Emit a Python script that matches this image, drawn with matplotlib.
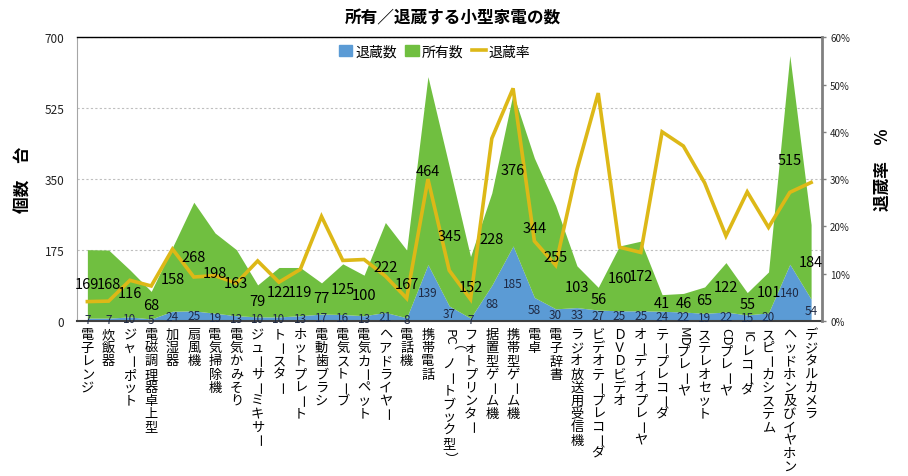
import matplotlib
matplotlib.use('Agg')
import matplotlib.pyplot as plt
import numpy as np
from matplotlib import transforms, font_manager
from matplotlib.patches import Patch
from matplotlib.lines import Line2D
from matplotlib.ticker import FuncFormatter

plt.rcParams['font.family'] = ['Noto Sans CJK JP', 'DejaVu Sans']

categories = ["電子レンジ", "炊飯器", "ジャーポット", "電磁調理器卓上型", "加湿器", "扇風機",
              "電気掃除機", "電気かみそり", "ジューサーミキサー", "トースター", "ホットプレート",
              "電動歯ブラシ", "電気ストーブ", "電気カーペット", "ヘアドライヤー", "電話機",
              "携帯電話", "PC（ノートブック型）", "フォトプリンター", "据置型ゲーム機",
              "携帯型ゲーム機", "電卓", "電子辞書", "ラジオ放送用受信機", "ビデオテープレコーダ",
              "ＤＶＤビデオ", "オーディオプレーヤ", "テープレコーダ", "MDプレーヤ", "ステレオセット",
              "CDプレーヤ", "ICレコーダ", "スピーカシステム", "ヘッドホン及びイヤホン", "デジタルカメラ"]
owned = [169, 168, 116, 68, 158, 268, 198, 163, 79, 122, 119, 77, 125, 100, 222, 167,
         464, 345, 152, 228, 376, 344, 255, 103, 56, 160, 172, 41, 46, 65, 122, 55, 101, 515, 184]
hidden = [7, 7, 10, 5, 24, 25, 19, 13, 10, 10, 13, 17, 16, 13, 21, 8,
          139, 37, 7, 88, 185, 58, 30, 33, 27, 25, 25, 24, 22, 19, 22, 15, 20, 140, 54]
rate = [4.1, 4.2, 8.6, 7.4, 15.2, 9.3, 9.6, 8.0, 12.7, 8.2, 10.9, 22.1, 12.8, 13.0, 9.5, 4.8,
        30.0, 10.7, 4.6, 38.6, 49.2, 16.9, 11.8, 32.0, 48.2, 15.6, 14.5, 40.0, 37.0, 29.2,
        18.0, 27.3, 19.8, 27.2, 29.3]
left_ticks = [0, 175, 350, 525, 700]
right_ticks = [0, 10, 20, 30, 40, 50, 60]

BLUE = '#5B9BD5'
GREEN = '#70BF40'
YELLOW = '#DDB817'

available = {f.name for f in font_manager.fontManager.ttflist}
if 'Liberation Sans Narrow' in available:
    NUMFONT = ['Liberation Sans Narrow', 'DejaVu Sans']
    big, small, tick_l, tick_r = 13, 10.5, 9.5, 8
else:
    NUMFONT = ['Noto Sans CJK JP', 'DejaVu Sans']
    big, small, tick_l, tick_r = 10.5, 8.5, 8.5, 7

fig = plt.figure(figsize=(9.08, 4.77), dpi=100)
ax = fig.add_axes([0.0845, 0.325, 0.8205, 0.5947])
x = np.arange(len(categories))
h = np.array(hidden, dtype=float)
o = np.array(owned, dtype=float)
ax.fill_between(x, 0, h, color=BLUE, lw=0, zorder=2)
ax.fill_between(x, h, h + o, color=GREEN, lw=0, zorder=2)
ax.set_xlim(-0.5, len(categories) - 0.5)
ax.set_ylim(0, 700)
ax.set_yticks(left_ticks)
ax.yaxis.grid(True, ls=(0, (2, 2)), color='#BFBFBF', lw=0.8)
ax.set_axisbelow(True)
ax.set_xticks([])
ax.tick_params(axis='y', length=0, pad=9, labelsize=tick_l, colors='#222222')
for t in ax.get_yticklabels():
    t.set_family(NUMFONT)
ax.spines['top'].set_color('black')
ax.spines['top'].set_linewidth(1.0)
ax.spines['left'].set_color('#A6A6A6')
ax.spines['bottom'].set_color('#404040')
ax.spines['bottom'].set_linewidth(1.5)
ax.spines['right'].set_visible(False)

ax2 = ax.twinx()
ax2.plot(x, rate, color=YELLOW, lw=2.6, zorder=3, solid_joinstyle='miter')
ax2.set_ylim(0, 60)
ax2.set_yticks(right_ticks)
ax2.yaxis.set_major_formatter(FuncFormatter(lambda v, p: f"{int(v)}%"))
ax2.tick_params(axis='y', length=3, width=1, color='#808080', pad=3, labelsize=tick_r, colors='#222222')
for t in ax2.get_yticklabels():
    t.set_family(NUMFONT)
for s in ['top', 'left', 'bottom']:
    ax2.spines[s].set_visible(False)
ax2.spines['right'].set_color('#808080')
ax2.spines['right'].set_linewidth(2)

# data labels
for i in range(len(categories)):
    ax2.text(x[i], h[i] + o[i] / 2, str(owned[i]), transform=ax.transData,
             ha='center', va='center', fontsize=big, color='black', zorder=5,
             family=NUMFONT)
    ax2.text(x[i], h[i] / 2, str(hidden[i]), transform=ax.transData,
             ha='center', va='center', fontsize=small, color='#1F2A44', zorder=5,
             family=NUMFONT)

# vertical category labels
fs = 9.5
step = 9.5
start = 5.0
base = transforms.blended_transform_factory(ax.transData, ax.transAxes)


def tokens(s):
    out = []
    i = 0
    while i < len(s):
        c = s[i]
        if c.isascii() and c.isalnum():
            j = i
            while j < len(s) and s[j].isascii() and s[j].isalnum():
                j += 1
            out.append((s[i:j], True, 0.62 * (j - i)))
            i = j
        else:
            rot = c in 'ー（）'
            out.append((c, rot, 1.0))
            i += 1
    return out


for i, lab in enumerate(categories):
    off = start
    for txt, rot, w in tokens(lab):
        cy = off + w * step / 2
        tr = transforms.offset_copy(base, fig=fig, x=0, y=-cy, units='points')
        ax.text(x[i], 0, txt, transform=tr, ha='center', va='center',
                fontsize=fs, rotation=-90 if rot else 0, clip_on=False)
        off += w * step

fig.text(0.499, 0.962, "所有／退蔵する小型家電の数", ha='center', va='center',
         fontsize=12, fontweight='bold')
fig.text(0.026, 0.623, "個数　台", ha='center', va='center', rotation=90,
         fontsize=12, fontweight='bold')
fig.text(0.972, 0.644, "退蔵率　%", ha='center', va='center', rotation=90,
         fontsize=12, fontweight='bold')

handles = [Patch(color=BLUE, label='退蔵数'), Patch(color=GREEN, label='所有数'),
           Line2D([0], [0], color=YELLOW, lw=2.6, label='退蔵率')]
ax2.legend(handles=handles, loc='center', bbox_to_anchor=(0.48, 0.95), ncol=3,
           frameon=False, fontsize=10, handlelength=1.0, handletextpad=0.2,
           columnspacing=0.6, handleheight=0.9)

fig.savefig('out.png', dpi=100)
